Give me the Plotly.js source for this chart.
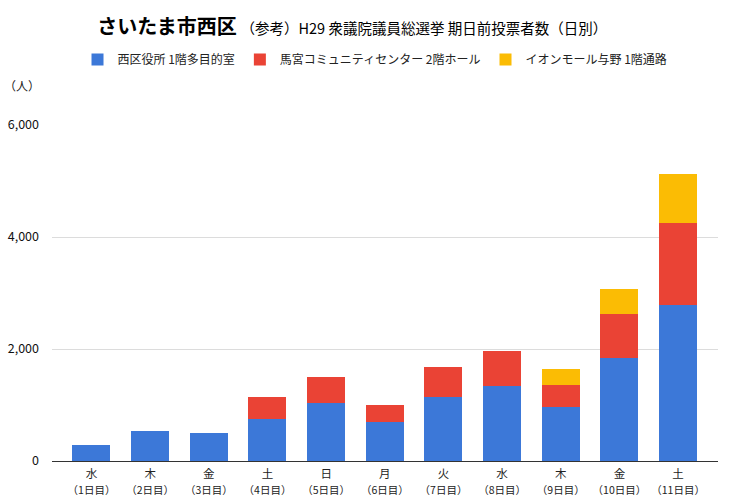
<!DOCTYPE html>
<html>
<head>
<meta charset="utf-8">
<script src="https://cdn.plot.ly/plotly-3.0.1.min.js"></script>
<style>html,body{margin:0;padding:0;background:#fff;}#chart{width:740px;height:500px;}</style>
</head>
<body>
<div id="chart"></div>
<script>
const dayNames = ["水","木","金","土","日","月","火","水","木","金","土"];
const dayCounts = ["（1日目）","（2日目）","（3日目）","（4日目）","（5日目）","（6日目）","（7日目）","（8日目）","（9日目）","（10日目）","（11日目）"];
const seriesNames = ["西区役所 1階多目的室","馬宮コミュニティセンター 2階ホール","イオンモール与野 1階通路"];
const nishikuYakusho = [290,540,500,746,1038,698,1146,1337,961,1832,2787];
const miyaCommunity = [0,0,0,405,460,299,531,632,399,787,1467];
const aeonYono = [0,0,0,0,0,0,0,0,275,460,871];
const tickVals = [0,2000,4000,6000];
const tickText = ["0","2,000","4,000","6,000"];

const colors = ["#3c78d8","#ea4335","#fbbc04"];
const FONT = "'Noto Sans CJK JP', 'Noto Sans', sans-serif";
const xs = dayNames.map((c,i)=>i);
const allSeries = [nishikuYakusho, miyaCommunity, aeonYono];
const traces = allSeries.map((vals,k)=>({
  type:'bar', x:xs, y:vals, name:seriesNames[k],
  marker:{color:colors[k], line:{width:0}},
  hoverinfo:'y+name'
}));
// invisible helper so the second (day-count label) axis is drawn
traces.push({
  type:'scatter', mode:'markers', x:xs, y:nishikuYakusho, xaxis:'x2', yaxis:'y',
  marker:{opacity:0, size:1}, showlegend:false, hoverinfo:'skip'
});

const xRange = [-0.673,10.68];
const layout = {
  width:740, height:500,
  barmode:'stack', bargap:0.352,
  paper_bgcolor:'#fff', plot_bgcolor:'#fff',
  font:{family:FONT, color:'#222', size:12},
  margin:{l:52, r:22, t:125, b:39},
  title:{
    text:'<span style="font-size:20px;font-weight:bold">さいたま市西区</span> <span style="font-size:14.5px">（参考）H29 衆議院議員総選挙 期日前投票者数（日別）</span>',
    x:0.476, xanchor:'center', y:0.944, yanchor:'middle', yref:'container',
    font:{family:FONT, color:'#000'}
  },
  showlegend:true,
  legend:{orientation:'h', x:0.485, xanchor:'center', y:1.195, yanchor:'middle',
    font:{family:FONT, size:12, color:'#222'}, traceorder:'normal', itemwidth:30},
  xaxis:{
    tickmode:'array', tickvals:xs, ticktext:dayNames, tickangle:0,
    range:xRange, showgrid:false, zeroline:false,
    showline:true, linecolor:'#333', linewidth:1,
    ticks:'', ticklabelstandoff:2, tickfont:{family:FONT, size:11.5, color:'#222'}
  },
  xaxis2:{
    overlaying:'x', anchor:'y', side:'bottom', tickangle:0,
    tickmode:'array', tickvals:xs, ticktext:dayCounts,
    range:xRange, showgrid:false, zeroline:false, showline:false,
    ticks:'', ticklabelstandoff:21, tickfont:{family:FONT, size:10.5, color:'#222'}
  },
  yaxis:{
    range:[0,6000], tickmode:'array', tickvals:tickVals, ticktext:tickText,
    showgrid:true, gridcolor:'#dcdcdc', gridwidth:1, zeroline:false,
    showline:false, ticks:'', ticklabelstandoff:12, tickfont:{family:FONT, size:12.5, color:'#111'},
    automargin:false
  },
  annotations:[{
    text:'（人）', xref:'paper', yref:'paper', x:-0.045, y:1.119,
    xanchor:'center', yanchor:'middle', showarrow:false,
    font:{family:FONT, size:12, color:'#222'}
  }]
};
Plotly.newPlot('chart', traces, layout, {displayModeBar:false, staticPlot:true});
</script>
</body>
</html>
